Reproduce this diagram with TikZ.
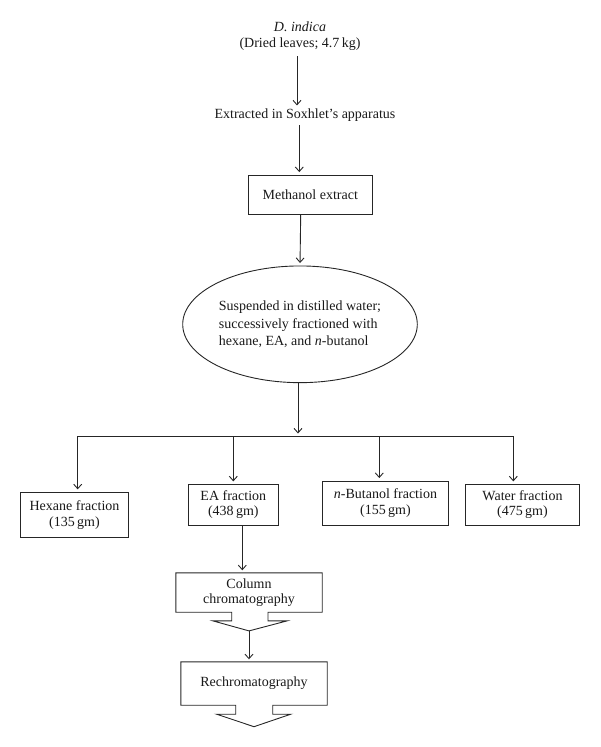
\documentclass[tikz,border=0pt]{standalone}
\usepackage{fontspec}
\setmainfont{Liberation Serif}
\usetikzlibrary{arrows.meta,calc,shapes.geometric}
\begin{document}
\begin{tikzpicture}[x=1pt,y=-1pt,
  every node/.style={font=\fontsize{14}{15.5}\selectfont, inner sep=0pt, align=center, text=black!90},
  box/.style={draw=black!85, line width=0.9pt},
  arr/.style={draw=black!85, line width=0.9pt, -{Straight Barb[length=4.5pt,width=8pt]}, shorten >=2.5pt},
  ln/.style={draw=black!85, line width=0.9pt}]
\useasboundingbox (0,0) rectangle (600,747);

% text nodes
\node (top) at (300,36) {\textit{D. indica}\\(Dried leaves; 4.7\,kg)};
\node (ext) at (305,115) {Extracted in Soxhlet's apparatus};

% boxes
\node[box, minimum width=124pt, minimum height=39.3pt] (meth) at (310.3,194.7) {Methanol extract};
\node[ln, ellipse, minimum width=234.6pt, minimum height=116.7pt, align=left,
      font=\fontsize{14}{17.5}\selectfont] (ell) at (300,324.3)
  {Suspended in distilled water;\\successively fractioned with\\hexane, EA, and \textit{n}-butanol};

\node[box, minimum width=107.6pt, minimum height=45.4pt] (hex) at (74.5,515) {Hexane fraction\\(135\,gm)};
\node[box, minimum width=90pt, minimum height=40.7pt] (ea) at (233.3,504.7) {EA fraction\\(438\,gm)};
\node[box, minimum width=125.6pt, minimum height=44pt] (but) at (385.5,503) {\textit{n}-Butanol fraction\\(155\,gm)};
\node[box, minimum width=113.6pt, minimum height=40.7pt] (wat) at (522.5,504.7) {Water fraction\\(475\,gm)};

\node[minimum width=146pt, minimum height=39pt] (col) at (249,592.5) {Column\\chromatography};
\node[minimum width=146pt, minimum height=43pt] (rech) at (254,683.5) {Rechromatography};

% callout outlines
\draw[ln] (col.south west) -- ($(col.south)+(-17.3,0)$) -- ($(col.south)+(-17.3,8.7)$)
  -- ($(col.south)+(-36,8.7)$) -- ($(col.south)+(0,18.7)$) -- ($(col.south)+(38,8.7)$)
  -- ($(col.south)+(19,8.7)$) -- ($(col.south)+(19,0)$) -- (col.south east)
  -- (col.north east) -- (col.north west) -- cycle;
\coordinate (coltip) at ($(col.south)+(0,18.7)$);

\draw[ln] (rech.south west) -- ($(rech.south)+(-18.3,0)$) -- ($(rech.south)+(-18.3,9)$)
  -- ($(rech.south)+(-37.3,9)$) -- ($(rech.south)+(0,21.5)$) -- ($(rech.south)+(36.7,9)$)
  -- ($(rech.south)+(18.7,9)$) -- ($(rech.south)+(18.7,0)$) -- (rech.south east)
  -- (rech.north east) -- (rech.north west) -- cycle;

% connectors
\draw[arr] ($(top.south)+(-3,6)$) -- ($(ext.north)+(-8,-0.5)$);
\draw[arr] ($(ext.south)+(-5.7,3.5)$) -- ($(meth.north)+(-11,0)$);
\draw[arr] ($(meth.south)+(-9.6,0)$) -- (ell.north);

\coordinate (bus) at (298,436);
\coordinate (hl) at (77.7,436);
\coordinate (hr) at (513.3,436);
\coordinate (hb) at (379.3,436);
\draw[arr] (ell.south -| bus) -- (bus);
\draw[ln] (hl) -- (hr);
\draw[arr] (hl) -- (hl |- hex.north);
\draw[arr] (ea.north |- hl) -- (ea.north);
\draw[arr] (hb) -- (hb |- but.north);
\draw[arr] (hr) -- (hr |- wat.north);

\coordinate (eas) at ($(ea.south)+(9,0)$);
\draw[arr] (eas) -- (eas |- col.north);
\draw[arr] (coltip) -- (coltip |- rech.north);
\end{tikzpicture}
\end{document}
